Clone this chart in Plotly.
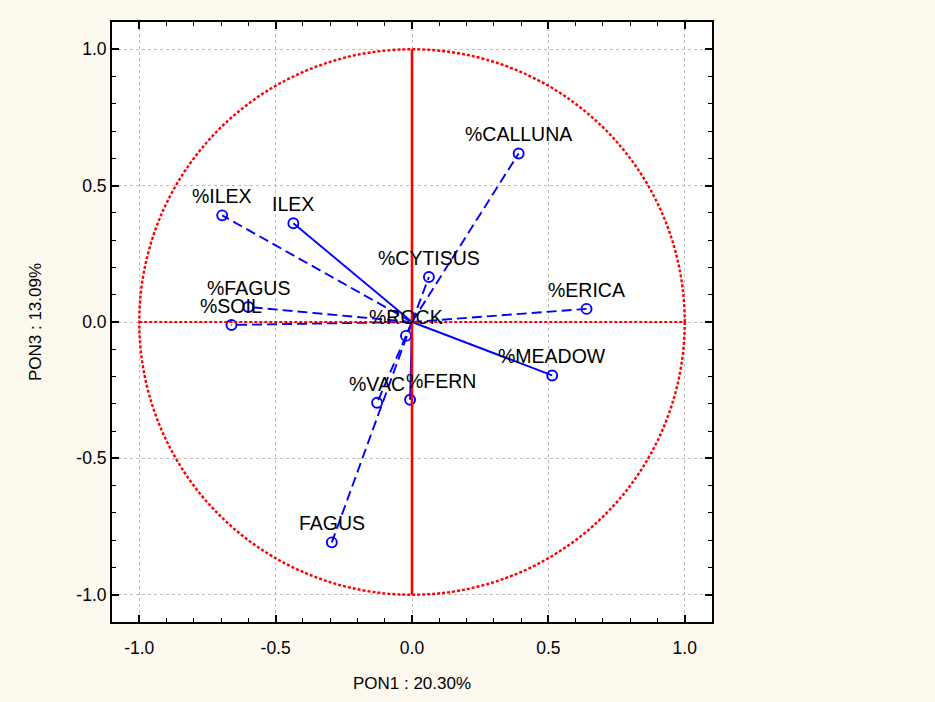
import plotly.graph_objects as go

# Variables (factor loadings on PON1 / PON3)
labels = ["%CALLUNA", "%CYTISUS", "%ERICA", "%MEADOW", "%FERN", "%VAC",
          "FAGUS", "%ROCK", "%SOIL", "%FAGUS", "%ILEX", "ILEX"]
pon1 = [0.391, 0.062, 0.640, 0.514, -0.007, -0.128,
        -0.294, -0.022, -0.662, -0.600, -0.696, -0.435]
pon3 = [0.618, 0.165, 0.048, -0.196, -0.285, -0.296,
        -0.808, -0.051, -0.011, 0.055, 0.391, 0.362]
line_dash = ["dash", "dash", "dash", "solid", "solid", "dash",
             "dash", "dash", "dash", "dash", "dash", "solid"]
label_xshift = [0, 0, 0, 0, 31, 0, 0, 0, 0, 0, 0, 0]

tick_vals = [-1.0, -0.5, 0.0, 0.5, 1.0]
tick_text = ["-1.0", "-0.5", "0.0", "0.5", "1.0"]

x_title = "PON1 : 20.30%"
y_title = "PON3 : 13.09%"

BLUE = "#0000ff"
RED = "#ff0000"
BG = "#fdf9ef"
FONT = "Liberation Sans, Arial, sans-serif"

fig = go.Figure()

for lab, xv, yv, ds in zip(labels, pon1, pon3, line_dash):
    fig.add_trace(go.Scatter(
        x=[0, xv], y=[0, yv], mode="lines",
        line=dict(color=BLUE, width=1.9,
                  dash=("10px,5px" if ds == "dash" else "solid")),
        showlegend=False, hoverinfo="skip"))

fig.add_trace(go.Scatter(
    x=pon1, y=pon3, mode="markers", text=labels,
    marker=dict(symbol="circle-open", size=10, color=BLUE,
                line=dict(color=BLUE, width=1.9)),
    showlegend=False))

annotations = []
for lab, xv, yv, xs in zip(labels, pon1, pon3, label_xshift):
    annotations.append(dict(
        x=xv, y=yv, text=lab, showarrow=False, xref="x", yref="y",
        xanchor="center", yanchor="middle", yshift=19, xshift=xs,
        font=dict(family=FONT, size=19.5, color="black")))

shapes = [
    dict(type="circle", xref="x", yref="y", x0=-1, y0=-1, x1=1, y1=1,
         line=dict(color=RED, width=2.4, dash="3px,2px"), layer="above"),
    dict(type="line", xref="x", yref="y", x0=-1, y0=0, x1=1, y1=0,
         line=dict(color=RED, width=2, dash="3px,2px"), layer="above"),
    dict(type="line", xref="x", yref="y", x0=0, y0=-1, x1=0, y1=1,
         line=dict(color=RED, width=2.6), layer="above"),
]

axis_common = dict(
    range=[-1.1, 1.1], tickmode="array", tickvals=tick_vals, ticktext=tick_text,
    ticks="inside", ticklen=7, tickwidth=1.5, tickcolor="black",
    showline=True, linewidth=2, linecolor="black", mirror="ticks",
    showgrid=True, gridcolor="#bdbdbd", griddash="dot", gridwidth=1,
    zeroline=False,
    minor=dict(dtick=0.1, tick0=0, ticks="inside", ticklen=4,
               tickwidth=1.2, tickcolor="black", showgrid=False),
    tickfont=dict(family=FONT, size=17.5, color="black"),
)

fig.update_layout(
    width=935, height=702,
    margin=dict(l=112, r=223, t=22, b=80),
    paper_bgcolor=BG, plot_bgcolor="white",
    xaxis=dict(**axis_common, ticklabelstandoff=9,
               title=dict(text=x_title, standoff=20,
                          font=dict(family=FONT, size=17, color="black"))),
    yaxis=dict(**axis_common,
               title=dict(text=y_title, standoff=30,
                          font=dict(family=FONT, size=17, color="black"))),
    annotations=annotations, shapes=shapes,
)

fig.write_html(
    "out.html",
    config={"displayModeBar": False},
    post_script=("document.body.style.margin='0';"
                 "document.body.style.background='" + BG + "';"))
